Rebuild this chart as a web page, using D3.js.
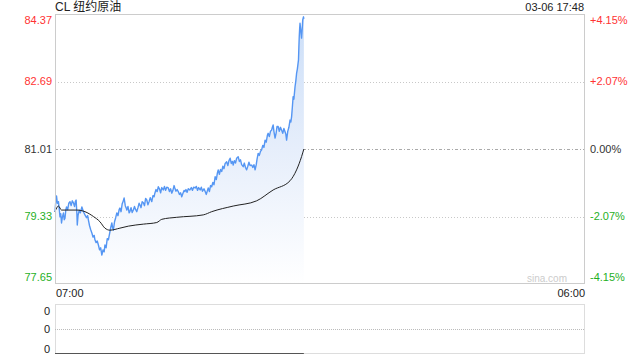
<!DOCTYPE html>
<html><head><meta charset="utf-8">
<script src="https://cdn.jsdelivr.net/npm/d3@7"></script>
<style>
html,body{margin:0;padding:0;background:#fff;}
svg{display:block;}
text{font-family:"Liberation Sans",Arial,"Noto Sans CJK SC",sans-serif;}
</style></head>
<body>
<svg id="c" width="640" height="360"></svg>
<script>
const titleText = "CL 纽约原油";
const stampText = "03-06 17:48";
const prevClose = 81.01;
const priceTicks = [84.37, 82.69, 81.01, 79.33, 77.65];
const pctTicks = ["+4.15%", "+2.07%", "0.00%", "-2.07%", "-4.15%"];
const timeLabels = ["07:00", "06:00"];
const sessionMinutes = 1380;
const volumeTicks = ["0", "0", "0"];

const priceMinutes = [0,2,4,6,9,11,13,15,17,19,22,24,26,28,30,33,36,39,42,45,48,51,53,55,57,58,60,63,66,70,74,78,82,85,87,90,93,96,99,102,104,107,110,113,116,119,122,125,128,130,133,136,139,142,145,148,150,152,155,158,161,164,167,169,172,175,178,180,183,185,187,190,193,195,198,201,204,207,210,213,216,219,221,224,227,230,233,236,239,242,245,248,252,255,258,260,263,266,269,272,275,278,282,285,288,291,295,298,301,304,307,310,312,315,318,321,324,327,330,333,336,338,341,344,347,351,355,358,361,365,368,371,374,378,381,384,388,391,394,397,399,402,405,408,411,414,417,420,423,425,428,431,434,437,440,443,447,450,453,456,459,462,464,467,470,473,477,480,483,486,490,493,496,499,502,505,508,512,515,518,521,524,526,529,532,535,538,541,544,547,550,553,555,558,561,564,566,568,570,573,576,578,581,584,587,590,593,596,599,601,603,606,609,612,614,616,618,620,622,625,627,629,631,634,635,636,637,638,640,642,644,645,647,648];
const priceValues = [79.45,79.70,79.84,79.66,79.70,79.52,79.32,79.40,79.17,79.30,79.42,79.25,79.29,79.48,79.57,79.50,79.66,79.70,79.60,79.72,79.67,79.58,79.70,79.74,79.40,79.12,79.35,79.49,79.42,79.57,79.45,79.37,79.30,79.35,79.24,79.10,79.00,78.92,78.82,78.86,78.75,78.68,78.72,78.62,78.50,78.55,78.37,78.50,78.45,78.62,78.55,78.78,78.75,78.90,79.05,79.17,79.05,78.99,79.20,79.30,79.42,79.35,79.50,79.54,79.45,79.65,79.72,79.79,79.60,79.55,79.49,79.58,79.42,79.45,79.55,79.43,79.49,79.58,79.50,79.45,79.55,79.66,79.62,79.55,79.70,79.67,79.60,79.78,79.74,79.62,79.70,79.80,79.70,79.85,79.82,79.91,80.00,79.95,80.07,80.02,79.92,80.05,79.99,80.08,79.98,80.06,80.04,79.95,80.02,79.91,79.98,80.10,80.04,79.96,80.00,79.95,79.88,79.92,79.82,79.90,79.98,79.95,80.00,79.93,80.02,79.99,80.05,79.98,80.06,80.04,80.08,79.98,80.05,79.99,80.06,79.96,80.02,79.95,79.88,79.98,80.04,79.95,80.10,80.07,80.18,80.12,80.32,80.25,80.42,80.49,80.38,80.50,80.45,80.58,80.52,80.65,80.69,80.60,80.72,80.78,80.65,80.70,80.61,80.72,80.66,80.78,80.82,80.70,80.74,80.62,80.57,80.66,80.55,80.49,80.58,80.68,80.60,80.61,80.55,80.62,80.49,80.62,80.75,80.90,80.85,80.95,80.99,81.10,81.05,81.23,81.18,81.35,81.40,81.32,81.45,81.48,81.55,81.61,81.45,81.28,81.42,81.57,81.57,81.45,81.55,81.48,81.40,81.52,81.44,81.38,81.23,81.45,81.55,81.73,81.68,81.81,82.05,82.31,82.25,82.56,82.70,82.89,83.00,83.23,83.55,83.81,84.00,84.14,83.95,83.77,84.05,84.22,84.30,84.25];

const avgMinutes = [0,9,17,57,78,100,117,130,143,169,191,230,265,278,317,386,408,464,525,568,612,629,642,648];
const avgValues = [79.45,79.59,79.49,79.49,79.45,79.33,79.20,79.04,78.99,79.04,79.09,79.14,79.18,79.26,79.31,79.37,79.45,79.59,79.72,79.99,80.22,80.49,80.82,81.01];

const volumeMinutes = [0, 648];
const volumeValues = [0, 0];

const svg = d3.select("#c");
const L = 55, R = 585, T = 14, B = 284;
const VT = 304, VB = 354;
const red = "#f33", green = "#1fb01f", dark = "#333";

const x = d3.scaleLinear().domain([0, sessionMinutes]).range([L, R]);
const y = d3.scaleLinear().domain([priceTicks[4], priceTicks[0]]).range([B, T]);
const yv = d3.scaleLinear().domain([0, 1]).range([VB, VT]);

const defs = svg.append("defs");
const grad = defs.append("linearGradient").attr("id", "g")
  .attr("gradientUnits", "userSpaceOnUse").attr("y1", T).attr("y2", B).attr("x1", 0).attr("x2", 0);
grad.append("stop").attr("offset", "0").attr("stop-color", "#cbdef8");
grad.append("stop").attr("offset", "0.5").attr("stop-color", "#e6eefb");
grad.append("stop").attr("offset", "1").attr("stop-color", "#ffffff");

const pts = priceMinutes.map((m, i) => [m, priceValues[i]]);
const avgPts = avgMinutes.map((m, i) => [m, avgValues[i]]);

// grid lines
const gridVals = [priceTicks[1], priceTicks[2], priceTicks[3]];
svg.append("g").selectAll("line").data(gridVals).join("line")
  .attr("x1", L).attr("x2", R)
  .attr("y1", d => Math.round(y(d)) + 0.5).attr("y2", d => Math.round(y(d)) + 0.5)
  .attr("stroke", d => d === prevClose ? "#aaa" : "#c8c8c8")
  .attr("stroke-dasharray", d => d === prevClose ? "3,2,1,2" : "1,2");

// area
svg.append("path").datum(pts)
  .attr("d", d3.area().x(d => x(d[0])).y0(B).y1(d => y(d[1])))
  .attr("fill", "url(#g)");

// price line
svg.append("path").datum(pts)
  .attr("d", d3.line().x(d => x(d[0])).y(d => y(d[1])))
  .attr("fill", "none").attr("stroke", "#5596f3").attr("stroke-width", 1.4).attr("stroke-linejoin", "round");

// average line
svg.append("path").datum(avgPts)
  .attr("d", d3.line().curve(d3.curveMonotoneX).x(d => x(d[0])).y(d => y(d[1])))
  .attr("fill", "none").attr("stroke", "#222").attr("stroke-width", 1);

// border
svg.append("rect").attr("x", L + 0.5).attr("y", T + 0.5).attr("width", R - L - 1).attr("height", B - T - 1)
  .attr("fill", "none").attr("stroke", "#ccc");

// left labels
const colorFor = i => i < 2 ? red : (i === 2 ? dark : green);
const labelY = i => y(priceTicks[i]) + (i === 0 ? 6 : (i === 4 ? -7 : 0));
svg.append("g").selectAll("text").data(priceTicks).join("text")
  .attr("x", 52).attr("y", (d, i) => labelY(i)).attr("dy", "0.35em")
  .attr("text-anchor", "end").attr("font-size", 11).attr("fill", (d, i) => colorFor(i))
  .text(d => d.toFixed(2));
svg.append("g").selectAll("text").data(pctTicks).join("text")
  .attr("x", 590).attr("y", (d, i) => labelY(i)).attr("dy", "0.35em")
  .attr("text-anchor", "start").attr("font-size", 11).attr("fill", (d, i) => colorFor(i))
  .text(d => d);

// title & stamp
svg.append("text").attr("x", 55).attr("y", 11).attr("font-size", 12).attr("fill", "#222").text(titleText);
svg.append("text").attr("x", 584).attr("y", 11).attr("font-size", 11).attr("fill", "#222").attr("text-anchor", "end").text(stampText);

// watermark
svg.append("text").attr("x", 567).attr("y", 282).attr("font-size", 10).attr("fill", "#ccc").attr("text-anchor", "end").text("sina.com");

// time labels
svg.append("text").attr("x", x(0) + 1).attr("y", 297).attr("font-size", 11).attr("fill", "#222").text(timeLabels[0]);
svg.append("text").attr("x", x(sessionMinutes)).attr("y", 297).attr("font-size", 11).attr("fill", "#222").attr("text-anchor", "end").text(timeLabels[1]);

// volume panel
const vg = svg.append("g");
vg.append("rect").attr("x", L + 0.5).attr("y", VT + 0.5).attr("width", R - L - 1).attr("height", VB - VT - 1)
  .attr("fill", "none").attr("stroke", "#bbb").attr("stroke-dasharray", "1,1");
vg.append("line").attr("x1", L).attr("x2", R).attr("y1", (VT + VB) / 2 + 0.5).attr("y2", (VT + VB) / 2 + 0.5)
  .attr("stroke", "#bbb").attr("stroke-dasharray", "1,1");
const vPts = volumeMinutes.map((m, i) => [m, volumeValues[i]]);
vg.append("path").datum(vPts)
  .attr("d", d3.line().x(d => x(d[0])).y(d => yv(d[1]) - 0.5))
  .attr("stroke", "#555").attr("stroke-width", 1).attr("fill", "none");
const vLabelY = [VT + 7, (VT + VB) / 2, VB - 5];
vg.selectAll("text.v").data(volumeTicks).join("text")
  .attr("x", 50).attr("y", (d, i) => vLabelY[i]).attr("dy", "0.35em")
  .attr("text-anchor", "end").attr("font-size", 11).attr("fill", "#222").text(d => d);
</script>
</body></html>
